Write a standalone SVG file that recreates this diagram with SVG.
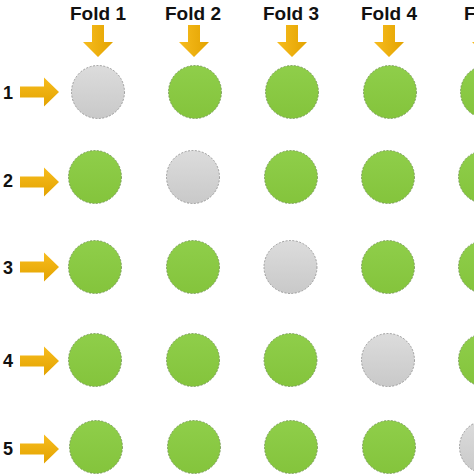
<svg xmlns="http://www.w3.org/2000/svg" width="474" height="474" viewBox="0 0 474 474">
<defs>
<linearGradient id="gGreen" x1="0" y1="0" x2="0" y2="1">
<stop offset="0" stop-color="#8FCE4A"/>
<stop offset="1" stop-color="#84C43C"/>
</linearGradient>
<linearGradient id="gGray" x1="0" y1="0" x2="0" y2="1">
<stop offset="0" stop-color="#DCDCDC"/>
<stop offset="1" stop-color="#C9C9C9"/>
</linearGradient>
<linearGradient id="gOrH" x1="0" y1="0" x2="0" y2="1">
<stop offset="0" stop-color="#F7BC1E"/>
<stop offset="1" stop-color="#E3A300"/>
</linearGradient>
<linearGradient id="gOrV" x1="0" y1="0" x2="1" y2="0">
<stop offset="0" stop-color="#F7BC1E"/>
<stop offset="1" stop-color="#E3A300"/>
</linearGradient>
<path id="arrR" d="M0,-5.5 H24 V-14.5 L39,0 L24,14.5 V5.5 H0 Z"/>
<path id="arrD" d="M-6,0 H6 V17 H15 L0,32 L-15,17 H-6 Z"/>
</defs>
<style>
.t{font-family:"Liberation Sans",Arial,sans-serif;font-weight:bold;fill:#111;}
.fold{font-size:19px;text-anchor:middle;}
.row{font-size:18px;text-anchor:middle;dominant-baseline:central;}
.g{fill:url(#gGreen);stroke:#6E8F52;stroke-width:0.8;stroke-dasharray:2 1.5;}
.s{fill:url(#gGray);stroke:#8A8A8A;stroke-width:0.8;stroke-dasharray:2 1.5;}
.ah{fill:url(#gOrH);}
.av{fill:url(#gOrV);}
</style>
<rect width="474" height="474" fill="#fff"/>
<g id="fold-labels">
<text class="t fold" x="98" y="20">Fold 1</text>
<text class="t fold" x="193" y="20">Fold 2</text>
<text class="t fold" x="291" y="20">Fold 3</text>
<text class="t fold" x="389" y="20">Fold 4</text>
<text class="t fold" x="492" y="20">Fold 5</text>
</g>
<g id="row-labels">
<text class="t row" x="8" y="93">1</text>
<text class="t row" x="8" y="181">2</text>
<text class="t row" x="8" y="268">3</text>
<text class="t row" x="8" y="361">4</text>
<text class="t row" x="8" y="449">5</text>
</g>
<g id="connectors">
<use href="#arrD" class="av" x="98" y="25"/>
<use href="#arrD" class="av" x="194" y="25"/>
<use href="#arrD" class="av" x="292" y="25"/>
<use href="#arrD" class="av" x="389" y="25"/>
<use href="#arrD" class="av" x="487" y="25"/>
<use href="#arrR" class="ah" x="20" y="92"/>
<use href="#arrR" class="ah" x="20" y="182"/>
<use href="#arrR" class="ah" x="20" y="267"/>
<use href="#arrR" class="ah" x="20" y="361"/>
<use href="#arrR" class="ah" x="20" y="449"/>
</g>
<g id="r1">
<g id="n1-1"><circle class="s" cx="98" cy="92" r="26.5"/></g>
<g id="n1-2"><circle class="g" cx="195" cy="92" r="26.5"/></g>
<g id="n1-3"><circle class="g" cx="292" cy="92" r="26.5"/></g>
<g id="n1-4"><circle class="g" cx="390" cy="92" r="26.5"/></g>
<g id="n1-5"><circle class="g" cx="487" cy="92" r="26.5"/></g>
</g>
<g id="r2">
<g id="n2-1"><circle class="g" cx="95" cy="177" r="26.5"/></g>
<g id="n2-2"><circle class="s" cx="193" cy="177" r="26.5"/></g>
<g id="n2-3"><circle class="g" cx="291" cy="177" r="26.5"/></g>
<g id="n2-4"><circle class="g" cx="388" cy="177" r="26.5"/></g>
<g id="n2-5"><circle class="g" cx="485" cy="177" r="26.5"/></g>
</g>
<g id="r3">
<g id="n3-1"><circle class="g" cx="95" cy="267" r="26.5"/></g>
<g id="n3-2"><circle class="g" cx="193" cy="267" r="26.5"/></g>
<g id="n3-3"><circle class="s" cx="290.5" cy="267" r="26.5"/></g>
<g id="n3-4"><circle class="g" cx="388" cy="267" r="26.5"/></g>
<g id="n3-5"><circle class="g" cx="485" cy="267" r="26.5"/></g>
</g>
<g id="r4">
<g id="n4-1"><circle class="g" cx="95" cy="360" r="26.5"/></g>
<g id="n4-2"><circle class="g" cx="193" cy="360" r="26.5"/></g>
<g id="n4-3"><circle class="g" cx="290.5" cy="360" r="26.5"/></g>
<g id="n4-4"><circle class="s" cx="388" cy="360" r="26.5"/></g>
<g id="n4-5"><circle class="g" cx="485" cy="360" r="26.5"/></g>
</g>
<g id="r5">
<g id="n5-1"><circle class="g" cx="96" cy="447" r="26.5"/></g>
<g id="n5-2"><circle class="g" cx="194" cy="447" r="26.5"/></g>
<g id="n5-3"><circle class="g" cx="291" cy="447" r="26.5"/></g>
<g id="n5-4"><circle class="g" cx="389" cy="447" r="26.5"/></g>
<g id="n5-5"><circle class="s" cx="486" cy="447" r="26.5"/></g>
</g>
</svg>
